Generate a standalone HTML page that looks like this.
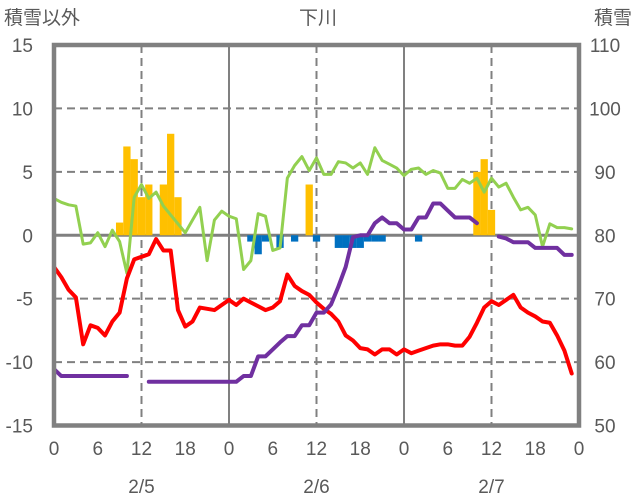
<!DOCTYPE html>
<html><head><meta charset="utf-8">
<style>
body{margin:0;background:#fff;}
svg{display:block;font-family:"Liberation Sans","Noto Sans CJK JP",sans-serif;}
text{fill:#595959;font-size:19px;}
</style></head>
<body>
<svg id="chart" width="636" height="501" viewBox="0 0 636 501">
<g id="grid"></g>
<g id="bars"></g>
<g id="lines"></g>
<g id="frame"></g>
<g id="labels"></g>
<text x="4" y="24">積雪以外</text>
<text x="318" y="24" text-anchor="middle">下川</text>
<text x="632" y="24" text-anchor="end">積雪</text>
</svg>
<script>
const hours = Array.from({length:72},(_, i)=>i);
const leftTicks = [15,10,5,0,-5,-10,-15];
const rightTicks = [110,100,90,80,70,60,50];
const xTickLabels = ["0","6","12","18","0","6","12","18","0","6","12","18","0"];
const dateLabels = ["2/5","2/6","2/7"];
const greenVals = [2.9,2.6,2.4,2.3,-0.7,-0.6,0.2,-0.9,0.4,-0.5,-3.0,3.0,4.0,2.9,3.4,2.3,1.6,0.9,0.2,1.2,2.2,-2.0,1.2,1.9,1.5,1.3,-2.7,-2.0,1.7,1.5,-1.2,-1.0,4.5,5.5,6.2,5.1,6.1,4.8,4.8,5.8,5.7,5.3,5.7,4.8,6.9,5.9,5.6,5.3,4.7,5.2,5.3,4.8,5.1,4.9,3.7,3.7,4.4,4.1,4.5,3.4,4.5,3.8,4.1,3.0,2.0,2.2,1.6,-0.9,0.9,0.6,0.6,0.5];
const redVals = [-2.5,-3.3,-4.3,-4.9,-8.6,-7.1,-7.3,-7.9,-6.8,-6.1,-3.4,-1.9,-1.7,-1.5,-0.3,-1.2,-1.2,-5.9,-7.2,-6.8,-5.7,-5.8,-5.9,-5.5,-5.1,-5.5,-5.0,-5.3,-5.6,-5.9,-5.7,-5.2,-3.1,-4.0,-4.4,-4.7,-5.3,-5.8,-6.2,-6.8,-7.9,-8.3,-8.9,-9.0,-9.4,-9.0,-9.0,-9.4,-9.0,-9.3,-9.1,-8.9,-8.7,-8.6,-8.6,-8.7,-8.7,-8.0,-6.9,-5.7,-5.2,-5.5,-5.1,-4.7,-5.7,-6.1,-6.4,-6.8,-6.9,-7.9,-9.1,-10.9];
const snowVals = [58.9,57.8,57.8,57.8,57.8,57.8,57.8,57.8,57.8,57.8,57.8,null,null,56.9,56.9,56.9,56.9,56.9,56.9,56.9,56.9,56.9,56.9,56.9,56.9,56.9,57.8,57.8,60.9,60.9,62.0,63.1,64.1,64.1,65.8,65.8,67.8,67.8,69.1,71.9,75.0,79.7,80,80,81.9,82.8,81.9,81.9,80.9,80.9,82.8,82.8,85,85,83.9,82.8,82.8,82.8,81.9,null,null,79.8,79.5,78.9,78.9,78.9,78,78,78,78,76.9,76.9];
const barHours = [9,10,11,12,13,15,16,17,27,28,29,31,33,35,36,39,40,41,42,43,44,45,50,58,59,60];
const barVals  = [1,7,6,3,4,4,8,3,-0.5,-1.5,-0.5,-1,-0.5,4,-0.5,-1,-1,-1,-1,-0.5,-0.5,-0.5,-0.5,5,6,2];

const NS='http://www.w3.org/2000/svg';
const X0=54, X1=579, Y0=45, Y1=425.5;
const xs = h => X0 + (X1-X0)*h/72;
const yL = v => Y0 + (15-v)*(Y1-Y0)/30;
const yR = v => Y0 + (110-v)*(Y1-Y0)/60;
function mk(tag, attrs, parent){const e=document.createElementNS(NS,tag);for(const k in attrs)e.setAttribute(k,attrs[k]);parent.appendChild(e);return e;}
const grid=document.getElementById('grid'), bars=document.getElementById('bars'), lines=document.getElementById('lines'), frame=document.getElementById('frame'), labels=document.getElementById('labels');
const G='#808080';
[10,5,-5,-10].forEach(v=>{const l=mk('line',{x1:X0,x2:X1,y1:yL(v),y2:yL(v),stroke:G,'stroke-width':2,'stroke-dasharray':'8,5'},grid);

});
[12,36,60].forEach(h=>{const l=mk('line',{x1:xs(h),x2:xs(h),y1:Y0,y2:Y1,stroke:G,'stroke-width':2,'stroke-dasharray':'8,5'},grid);

});
[24,48].forEach(h=>{const l=mk('line',{x1:xs(h),x2:xs(h),y1:Y0,y2:Y1,stroke:G,'stroke-width':2},grid);

});
const bw=(X1-X0)/72;
barHours.forEach((h,i)=>{const v=barVals[i];const y=Math.min(yL(v),yL(0));const r=mk('rect',{x:xs(h)-bw/2,y:y,width:bw,height:Math.abs(yL(v)-yL(0)),fill:v>0?'#FFC000':'#0070C0'},bars);

});
const z=mk('line',{x1:X0,x2:X1,y1:yL(0),y2:yL(0),stroke:G,'stroke-width':3},grid);


function drawLine(vals, yf, color, w, name){let segs=[],cur=[];vals.forEach((v,i)=>{if(v===null){if(cur.length)segs.push(cur);cur=[];}else cur.push(xs(i+0.5-0.5+0.0)+','+yf(v));});if(cur.length)segs.push(cur);
segs.forEach(s=>{const p=mk('polyline',{points:s.join(' '),fill:'none',stroke:color,'stroke-width':w,'stroke-linejoin':'round','stroke-linecap':'round'},lines);

});}
drawLine(greenVals,yL,'#92D050',3,'green-series-line');
drawLine(redVals,yL,'#FF0000',4,'temperature-line');
drawLine(snowVals,yR,'#7030A0',4,'snow-depth-line');
const fr=mk('rect',{x:X0,y:Y0,width:X1-X0,height:Y1-Y0,fill:'none',stroke:G,'stroke-width':4.5},frame);


leftTicks.forEach(v=>{const t=mk('text',{x:33,y:yL(v)+7,'text-anchor':'end'},labels);t.textContent=v;

});
rightTicks.forEach(v=>{const t=mk('text',{x:605,y:yR(v)+7,'text-anchor':'middle'},labels);t.textContent=v;

});
xTickLabels.forEach((s,i)=>{const t=mk('text',{x:xs(i*6),y:455,'text-anchor':'middle'},labels);t.textContent=s;

});
dateLabels.forEach((s,i)=>{const t=mk('text',{x:xs(12+24*i),y:493,'text-anchor':'middle'},labels);t.textContent=s;

});
</script>
</body></html>
